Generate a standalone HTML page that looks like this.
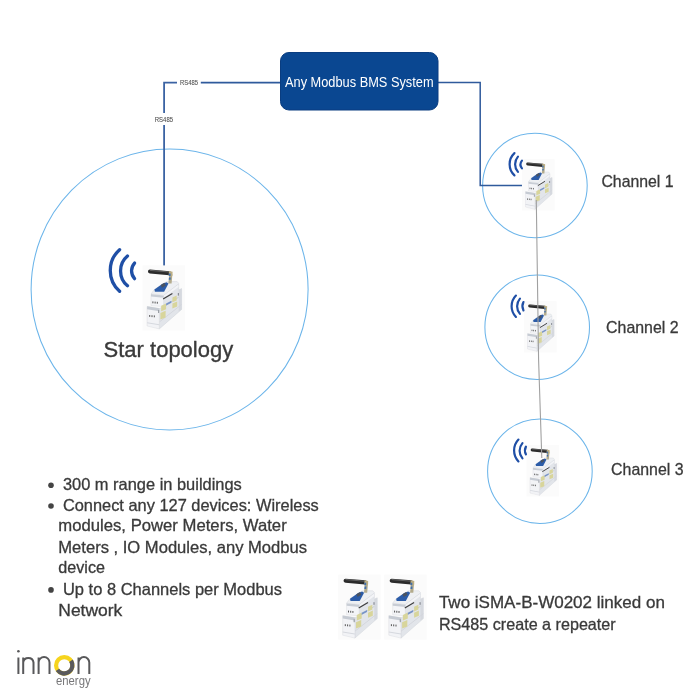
<!DOCTYPE html>
<html><head><meta charset="utf-8">
<style>
html,body{margin:0;padding:0;background:#ffffff;}
svg{display:block;will-change:transform;}
text{font-family:"Liberation Sans",sans-serif;}
</style></head>
<body>
<svg width="700" height="700" viewBox="0 0 700 700">
<rect width="700" height="700" fill="#ffffff"/>
<ellipse cx="169.6" cy="289.5" rx="138.5" ry="140.5" fill="none" stroke="#6cb5ea" stroke-width="1.05"/>
<circle cx="534.9" cy="185.5" r="52.3" fill="none" stroke="#6cb5ea" stroke-width="1.05"/>
<circle cx="537.2" cy="327.2" r="52.3" fill="none" stroke="#6cb5ea" stroke-width="1.05"/>
<circle cx="539.9" cy="471.2" r="52.3" fill="none" stroke="#6cb5ea" stroke-width="1.05"/>
<polyline points="280,82.6 200.8,82.6" fill="none" stroke="#2f5a9c" stroke-width="1.6"/>
<polyline points="177,82.6 164.1,82.6 164.1,113" fill="none" stroke="#3b63a3" stroke-width="1.8"/>
<polyline points="164.1,125 164.1,266.5" fill="none" stroke="#3b63a3" stroke-width="1.8"/>
<polyline points="438,82.6 480.2,82.6 480.2,185.5 522,185.5" fill="none" stroke="#2f5a9c" stroke-width="1.5"/>
<rect x="280.5" y="52.5" width="157.5" height="57.5" rx="8.5" fill="#0a4791" stroke="#0a3d80" stroke-width="1"/>
<text x="285" y="86.7" font-size="14.6" fill="#ffffff" textLength="148.6" lengthAdjust="spacingAndGlyphs">Any Modbus BMS System</text>
<text x="180" y="84.8" font-size="6.5" fill="#505050" stroke="#505050" stroke-width="0.08" textLength="18" lengthAdjust="spacingAndGlyphs">RS485</text>
<text x="154.8" y="121.8" font-size="6.5" fill="#505050" stroke="#505050" stroke-width="0.08" textLength="18.2" lengthAdjust="spacingAndGlyphs">RS485</text>
<g transform="translate(140.00 262.00) scale(1.0 1.0)">
<rect x="2.5" y="3.4" width="42.5" height="65" fill="#fbfbfb"/>
<!-- side face -->
<polygon points="23.6,32.9 37.7,22.2 38.7,22.2 38.7,28 41.6,26.6 41.6,47.4 19.3,66.9 19.3,46.5 23.6,44.5" fill="#e2e5ea" stroke="#d0d4da" stroke-width="0.5"/>
<polygon points="38.7,28 41.6,26.6 41.6,47.4 38.7,49.6" fill="#d6d9df"/>
<polygon points="23.6,33.2 38.2,22.6 38.6,25 23.6,36" fill="#f3f4f7"/>
<line x1="23.6" y1="44.8" x2="38.7" y2="35.2" stroke="#c4c8cf" stroke-width="0.9"/>
<line x1="19.3" y1="60" x2="41.6" y2="42.5" stroke="#d2d5db" stroke-width="0.9"/>
<!-- upper module left face -->
<polygon points="11,32.4 23.6,33.8 23.6,44.5 11,43.6" fill="#f4f5f8" stroke="#d3d6dc" stroke-width="0.4"/>
<polygon points="11,32 23.6,33.4 23.6,35.8 11,34.5" fill="#c8cdd5"/>
<!-- lower module left face -->
<polygon points="7.1,44.5 19.3,46.5 19.3,66.9 7.1,64" fill="#f2f3f6" stroke="#d3d6dc" stroke-width="0.4"/>
<polygon points="7.1,44.2 19.3,46.2 19.3,49.2 7.1,47.3" fill="#c6cbd3"/>
<polygon points="7.1,60.2 19.3,62.2 19.3,63.2 7.1,61.2" fill="#d5d8de"/>
<!-- top face -->
<polygon points="11,32 14.4,27.5 26.5,19.6 37.2,19.6 38.9,21.6 23.6,33.4" fill="#eef0f3" stroke="#d4d7dd" stroke-width="0.5"/>
<!-- blue top -->
<polygon points="14.4,27.5 22.6,21.7 26.5,20.2 28.5,21.5 24.1,29.8 14.9,29.8" fill="#2c5ca8"/>
<polygon points="20.7,23 24.5,20.8 25.8,23.5 22,25.8" fill="#4a5360"/>
<!-- yellow labels -->
<polygon points="21.2,43.8 26.1,41.4 26.1,47.2 21.2,49.2" fill="#d8d59b"/>
<polygon points="20.4,51 25.6,48.8 25.6,55.4 20.4,57.4" fill="#d8d59b"/>
<polygon points="32.4,35.6 36.7,33.5 36.7,38.4 32.4,40.2" fill="#d8d59b"/>
<polygon points="32.4,41.6 37.2,39.4 37.2,44.6 32.4,46.6" fill="#d8d59b"/>
<polygon points="26.1,41.6 31.4,38.8 31.4,40.8 26.1,43.6" fill="#7894c8"/>
<!-- dark text strip -->
<line x1="23.1" y1="36.9" x2="32.4" y2="31.4" stroke="#3e3e3e" stroke-width="1.2"/>
<!-- small details -->
<rect x="37.8" y="31" width="1.2" height="2.6" fill="#8a8e95"/>
<rect x="18" y="48" width="1.2" height="3" fill="#9a9ea5"/>
<!-- dots on front -->
<rect x="12.4" y="39.4" width="1" height="1.9" fill="#555"/><rect x="14.6" y="39.6" width="1" height="1.9" fill="#555"/><rect x="16.8" y="39.8" width="1" height="1.9" fill="#555"/>
<rect x="9.2" y="53" width="1" height="1.9" fill="#555"/><rect x="11.5" y="53.2" width="1" height="1.9" fill="#555"/><rect x="13.8" y="53.4" width="1" height="1.9" fill="#555"/>
<!-- connector -->
<polygon points="29.2,12 32.4,12 31.6,21.5 28.4,21.5" fill="#b3ab8c"/>
<polygon points="29,15.4 30.8,15.4 30.6,17.8 28.8,17.8" fill="#3f6fae"/>
<!-- antenna -->
<line x1="10" y1="9.5" x2="29.5" y2="11.2" stroke="#2b2b2b" stroke-width="4.1" stroke-linecap="round"/>
<line x1="10.3" y1="8.4" x2="28" y2="9.9" stroke="#707070" stroke-width="0.8" stroke-linecap="round"/>
<polygon points="28.8,9 32.6,9.8 32.4,14 28.8,14" fill="#bcae84"/>
<rect x="28.8" y="11.5" width="1.8" height="2.5" fill="#3f6fae"/>
</g>
<g transform="translate(520.04 156.50) scale(0.77 0.79)">
<rect x="2.5" y="3.4" width="42.5" height="65" fill="#fbfbfb"/>
<!-- side face -->
<polygon points="23.6,32.9 37.7,22.2 38.7,22.2 38.7,28 41.6,26.6 41.6,47.4 19.3,66.9 19.3,46.5 23.6,44.5" fill="#e2e5ea" stroke="#d0d4da" stroke-width="0.5"/>
<polygon points="38.7,28 41.6,26.6 41.6,47.4 38.7,49.6" fill="#d6d9df"/>
<polygon points="23.6,33.2 38.2,22.6 38.6,25 23.6,36" fill="#f3f4f7"/>
<line x1="23.6" y1="44.8" x2="38.7" y2="35.2" stroke="#c4c8cf" stroke-width="0.9"/>
<line x1="19.3" y1="60" x2="41.6" y2="42.5" stroke="#d2d5db" stroke-width="0.9"/>
<!-- upper module left face -->
<polygon points="11,32.4 23.6,33.8 23.6,44.5 11,43.6" fill="#f4f5f8" stroke="#d3d6dc" stroke-width="0.4"/>
<polygon points="11,32 23.6,33.4 23.6,35.8 11,34.5" fill="#c8cdd5"/>
<!-- lower module left face -->
<polygon points="7.1,44.5 19.3,46.5 19.3,66.9 7.1,64" fill="#f2f3f6" stroke="#d3d6dc" stroke-width="0.4"/>
<polygon points="7.1,44.2 19.3,46.2 19.3,49.2 7.1,47.3" fill="#c6cbd3"/>
<polygon points="7.1,60.2 19.3,62.2 19.3,63.2 7.1,61.2" fill="#d5d8de"/>
<!-- top face -->
<polygon points="11,32 14.4,27.5 26.5,19.6 37.2,19.6 38.9,21.6 23.6,33.4" fill="#eef0f3" stroke="#d4d7dd" stroke-width="0.5"/>
<!-- blue top -->
<polygon points="14.4,27.5 22.6,21.7 26.5,20.2 28.5,21.5 24.1,29.8 14.9,29.8" fill="#2c5ca8"/>
<polygon points="20.7,23 24.5,20.8 25.8,23.5 22,25.8" fill="#4a5360"/>
<!-- yellow labels -->
<polygon points="21.2,43.8 26.1,41.4 26.1,47.2 21.2,49.2" fill="#d8d59b"/>
<polygon points="20.4,51 25.6,48.8 25.6,55.4 20.4,57.4" fill="#d8d59b"/>
<polygon points="32.4,35.6 36.7,33.5 36.7,38.4 32.4,40.2" fill="#d8d59b"/>
<polygon points="32.4,41.6 37.2,39.4 37.2,44.6 32.4,46.6" fill="#d8d59b"/>
<polygon points="26.1,41.6 31.4,38.8 31.4,40.8 26.1,43.6" fill="#7894c8"/>
<!-- dark text strip -->
<line x1="23.1" y1="36.9" x2="32.4" y2="31.4" stroke="#3e3e3e" stroke-width="1.2"/>
<!-- small details -->
<rect x="37.8" y="31" width="1.2" height="2.6" fill="#8a8e95"/>
<rect x="18" y="48" width="1.2" height="3" fill="#9a9ea5"/>
<!-- dots on front -->
<rect x="12.4" y="39.4" width="1" height="1.9" fill="#555"/><rect x="14.6" y="39.6" width="1" height="1.9" fill="#555"/><rect x="16.8" y="39.8" width="1" height="1.9" fill="#555"/>
<rect x="9.2" y="53" width="1" height="1.9" fill="#555"/><rect x="11.5" y="53.2" width="1" height="1.9" fill="#555"/><rect x="13.8" y="53.4" width="1" height="1.9" fill="#555"/>
<!-- connector -->
<polygon points="29.2,12 32.4,12 31.6,21.5 28.4,21.5" fill="#b3ab8c"/>
<polygon points="29,15.4 30.8,15.4 30.6,17.8 28.8,17.8" fill="#3f6fae"/>
<!-- antenna -->
<line x1="10" y1="9.5" x2="29.5" y2="11.2" stroke="#2b2b2b" stroke-width="4.1" stroke-linecap="round"/>
<line x1="10.3" y1="8.4" x2="28" y2="9.9" stroke="#707070" stroke-width="0.8" stroke-linecap="round"/>
<polygon points="28.8,9 32.6,9.8 32.4,14 28.8,14" fill="#bcae84"/>
<rect x="28.8" y="11.5" width="1.8" height="2.5" fill="#3f6fae"/>
</g>
<g transform="translate(522.04 298.50) scale(0.77 0.79)">
<rect x="2.5" y="3.4" width="42.5" height="65" fill="#fbfbfb"/>
<!-- side face -->
<polygon points="23.6,32.9 37.7,22.2 38.7,22.2 38.7,28 41.6,26.6 41.6,47.4 19.3,66.9 19.3,46.5 23.6,44.5" fill="#e2e5ea" stroke="#d0d4da" stroke-width="0.5"/>
<polygon points="38.7,28 41.6,26.6 41.6,47.4 38.7,49.6" fill="#d6d9df"/>
<polygon points="23.6,33.2 38.2,22.6 38.6,25 23.6,36" fill="#f3f4f7"/>
<line x1="23.6" y1="44.8" x2="38.7" y2="35.2" stroke="#c4c8cf" stroke-width="0.9"/>
<line x1="19.3" y1="60" x2="41.6" y2="42.5" stroke="#d2d5db" stroke-width="0.9"/>
<!-- upper module left face -->
<polygon points="11,32.4 23.6,33.8 23.6,44.5 11,43.6" fill="#f4f5f8" stroke="#d3d6dc" stroke-width="0.4"/>
<polygon points="11,32 23.6,33.4 23.6,35.8 11,34.5" fill="#c8cdd5"/>
<!-- lower module left face -->
<polygon points="7.1,44.5 19.3,46.5 19.3,66.9 7.1,64" fill="#f2f3f6" stroke="#d3d6dc" stroke-width="0.4"/>
<polygon points="7.1,44.2 19.3,46.2 19.3,49.2 7.1,47.3" fill="#c6cbd3"/>
<polygon points="7.1,60.2 19.3,62.2 19.3,63.2 7.1,61.2" fill="#d5d8de"/>
<!-- top face -->
<polygon points="11,32 14.4,27.5 26.5,19.6 37.2,19.6 38.9,21.6 23.6,33.4" fill="#eef0f3" stroke="#d4d7dd" stroke-width="0.5"/>
<!-- blue top -->
<polygon points="14.4,27.5 22.6,21.7 26.5,20.2 28.5,21.5 24.1,29.8 14.9,29.8" fill="#2c5ca8"/>
<polygon points="20.7,23 24.5,20.8 25.8,23.5 22,25.8" fill="#4a5360"/>
<!-- yellow labels -->
<polygon points="21.2,43.8 26.1,41.4 26.1,47.2 21.2,49.2" fill="#d8d59b"/>
<polygon points="20.4,51 25.6,48.8 25.6,55.4 20.4,57.4" fill="#d8d59b"/>
<polygon points="32.4,35.6 36.7,33.5 36.7,38.4 32.4,40.2" fill="#d8d59b"/>
<polygon points="32.4,41.6 37.2,39.4 37.2,44.6 32.4,46.6" fill="#d8d59b"/>
<polygon points="26.1,41.6 31.4,38.8 31.4,40.8 26.1,43.6" fill="#7894c8"/>
<!-- dark text strip -->
<line x1="23.1" y1="36.9" x2="32.4" y2="31.4" stroke="#3e3e3e" stroke-width="1.2"/>
<!-- small details -->
<rect x="37.8" y="31" width="1.2" height="2.6" fill="#8a8e95"/>
<rect x="18" y="48" width="1.2" height="3" fill="#9a9ea5"/>
<!-- dots on front -->
<rect x="12.4" y="39.4" width="1" height="1.9" fill="#555"/><rect x="14.6" y="39.6" width="1" height="1.9" fill="#555"/><rect x="16.8" y="39.8" width="1" height="1.9" fill="#555"/>
<rect x="9.2" y="53" width="1" height="1.9" fill="#555"/><rect x="11.5" y="53.2" width="1" height="1.9" fill="#555"/><rect x="13.8" y="53.4" width="1" height="1.9" fill="#555"/>
<!-- connector -->
<polygon points="29.2,12 32.4,12 31.6,21.5 28.4,21.5" fill="#b3ab8c"/>
<polygon points="29,15.4 30.8,15.4 30.6,17.8 28.8,17.8" fill="#3f6fae"/>
<!-- antenna -->
<line x1="10" y1="9.5" x2="29.5" y2="11.2" stroke="#2b2b2b" stroke-width="4.1" stroke-linecap="round"/>
<line x1="10.3" y1="8.4" x2="28" y2="9.9" stroke="#707070" stroke-width="0.8" stroke-linecap="round"/>
<polygon points="28.8,9 32.6,9.8 32.4,14 28.8,14" fill="#bcae84"/>
<rect x="28.8" y="11.5" width="1.8" height="2.5" fill="#3f6fae"/>
</g>
<g transform="translate(524.54 442.50) scale(0.77 0.79)">
<rect x="2.5" y="3.4" width="42.5" height="65" fill="#fbfbfb"/>
<!-- side face -->
<polygon points="23.6,32.9 37.7,22.2 38.7,22.2 38.7,28 41.6,26.6 41.6,47.4 19.3,66.9 19.3,46.5 23.6,44.5" fill="#e2e5ea" stroke="#d0d4da" stroke-width="0.5"/>
<polygon points="38.7,28 41.6,26.6 41.6,47.4 38.7,49.6" fill="#d6d9df"/>
<polygon points="23.6,33.2 38.2,22.6 38.6,25 23.6,36" fill="#f3f4f7"/>
<line x1="23.6" y1="44.8" x2="38.7" y2="35.2" stroke="#c4c8cf" stroke-width="0.9"/>
<line x1="19.3" y1="60" x2="41.6" y2="42.5" stroke="#d2d5db" stroke-width="0.9"/>
<!-- upper module left face -->
<polygon points="11,32.4 23.6,33.8 23.6,44.5 11,43.6" fill="#f4f5f8" stroke="#d3d6dc" stroke-width="0.4"/>
<polygon points="11,32 23.6,33.4 23.6,35.8 11,34.5" fill="#c8cdd5"/>
<!-- lower module left face -->
<polygon points="7.1,44.5 19.3,46.5 19.3,66.9 7.1,64" fill="#f2f3f6" stroke="#d3d6dc" stroke-width="0.4"/>
<polygon points="7.1,44.2 19.3,46.2 19.3,49.2 7.1,47.3" fill="#c6cbd3"/>
<polygon points="7.1,60.2 19.3,62.2 19.3,63.2 7.1,61.2" fill="#d5d8de"/>
<!-- top face -->
<polygon points="11,32 14.4,27.5 26.5,19.6 37.2,19.6 38.9,21.6 23.6,33.4" fill="#eef0f3" stroke="#d4d7dd" stroke-width="0.5"/>
<!-- blue top -->
<polygon points="14.4,27.5 22.6,21.7 26.5,20.2 28.5,21.5 24.1,29.8 14.9,29.8" fill="#2c5ca8"/>
<polygon points="20.7,23 24.5,20.8 25.8,23.5 22,25.8" fill="#4a5360"/>
<!-- yellow labels -->
<polygon points="21.2,43.8 26.1,41.4 26.1,47.2 21.2,49.2" fill="#d8d59b"/>
<polygon points="20.4,51 25.6,48.8 25.6,55.4 20.4,57.4" fill="#d8d59b"/>
<polygon points="32.4,35.6 36.7,33.5 36.7,38.4 32.4,40.2" fill="#d8d59b"/>
<polygon points="32.4,41.6 37.2,39.4 37.2,44.6 32.4,46.6" fill="#d8d59b"/>
<polygon points="26.1,41.6 31.4,38.8 31.4,40.8 26.1,43.6" fill="#7894c8"/>
<!-- dark text strip -->
<line x1="23.1" y1="36.9" x2="32.4" y2="31.4" stroke="#3e3e3e" stroke-width="1.2"/>
<!-- small details -->
<rect x="37.8" y="31" width="1.2" height="2.6" fill="#8a8e95"/>
<rect x="18" y="48" width="1.2" height="3" fill="#9a9ea5"/>
<!-- dots on front -->
<rect x="12.4" y="39.4" width="1" height="1.9" fill="#555"/><rect x="14.6" y="39.6" width="1" height="1.9" fill="#555"/><rect x="16.8" y="39.8" width="1" height="1.9" fill="#555"/>
<rect x="9.2" y="53" width="1" height="1.9" fill="#555"/><rect x="11.5" y="53.2" width="1" height="1.9" fill="#555"/><rect x="13.8" y="53.4" width="1" height="1.9" fill="#555"/>
<!-- connector -->
<polygon points="29.2,12 32.4,12 31.6,21.5 28.4,21.5" fill="#b3ab8c"/>
<polygon points="29,15.4 30.8,15.4 30.6,17.8 28.8,17.8" fill="#3f6fae"/>
<!-- antenna -->
<line x1="10" y1="9.5" x2="29.5" y2="11.2" stroke="#2b2b2b" stroke-width="4.1" stroke-linecap="round"/>
<line x1="10.3" y1="8.4" x2="28" y2="9.9" stroke="#707070" stroke-width="0.8" stroke-linecap="round"/>
<polygon points="28.8,9 32.6,9.8 32.4,14 28.8,14" fill="#bcae84"/>
<rect x="28.8" y="11.5" width="1.8" height="2.5" fill="#3f6fae"/>
</g>
<g transform="translate(335.60 571.20) scale(1.0 1.0)">
<rect x="2.5" y="3.4" width="42.5" height="65" fill="#fbfbfb"/>
<!-- side face -->
<polygon points="23.6,32.9 37.7,22.2 38.7,22.2 38.7,28 41.6,26.6 41.6,47.4 19.3,66.9 19.3,46.5 23.6,44.5" fill="#e2e5ea" stroke="#d0d4da" stroke-width="0.5"/>
<polygon points="38.7,28 41.6,26.6 41.6,47.4 38.7,49.6" fill="#d6d9df"/>
<polygon points="23.6,33.2 38.2,22.6 38.6,25 23.6,36" fill="#f3f4f7"/>
<line x1="23.6" y1="44.8" x2="38.7" y2="35.2" stroke="#c4c8cf" stroke-width="0.9"/>
<line x1="19.3" y1="60" x2="41.6" y2="42.5" stroke="#d2d5db" stroke-width="0.9"/>
<!-- upper module left face -->
<polygon points="11,32.4 23.6,33.8 23.6,44.5 11,43.6" fill="#f4f5f8" stroke="#d3d6dc" stroke-width="0.4"/>
<polygon points="11,32 23.6,33.4 23.6,35.8 11,34.5" fill="#c8cdd5"/>
<!-- lower module left face -->
<polygon points="7.1,44.5 19.3,46.5 19.3,66.9 7.1,64" fill="#f2f3f6" stroke="#d3d6dc" stroke-width="0.4"/>
<polygon points="7.1,44.2 19.3,46.2 19.3,49.2 7.1,47.3" fill="#c6cbd3"/>
<polygon points="7.1,60.2 19.3,62.2 19.3,63.2 7.1,61.2" fill="#d5d8de"/>
<!-- top face -->
<polygon points="11,32 14.4,27.5 26.5,19.6 37.2,19.6 38.9,21.6 23.6,33.4" fill="#eef0f3" stroke="#d4d7dd" stroke-width="0.5"/>
<!-- blue top -->
<polygon points="14.4,27.5 22.6,21.7 26.5,20.2 28.5,21.5 24.1,29.8 14.9,29.8" fill="#2c5ca8"/>
<polygon points="20.7,23 24.5,20.8 25.8,23.5 22,25.8" fill="#4a5360"/>
<!-- yellow labels -->
<polygon points="21.2,43.8 26.1,41.4 26.1,47.2 21.2,49.2" fill="#d8d59b"/>
<polygon points="20.4,51 25.6,48.8 25.6,55.4 20.4,57.4" fill="#d8d59b"/>
<polygon points="32.4,35.6 36.7,33.5 36.7,38.4 32.4,40.2" fill="#d8d59b"/>
<polygon points="32.4,41.6 37.2,39.4 37.2,44.6 32.4,46.6" fill="#d8d59b"/>
<polygon points="26.1,41.6 31.4,38.8 31.4,40.8 26.1,43.6" fill="#7894c8"/>
<!-- dark text strip -->
<line x1="23.1" y1="36.9" x2="32.4" y2="31.4" stroke="#3e3e3e" stroke-width="1.2"/>
<!-- small details -->
<rect x="37.8" y="31" width="1.2" height="2.6" fill="#8a8e95"/>
<rect x="18" y="48" width="1.2" height="3" fill="#9a9ea5"/>
<!-- dots on front -->
<rect x="12.4" y="39.4" width="1" height="1.9" fill="#555"/><rect x="14.6" y="39.6" width="1" height="1.9" fill="#555"/><rect x="16.8" y="39.8" width="1" height="1.9" fill="#555"/>
<rect x="9.2" y="53" width="1" height="1.9" fill="#555"/><rect x="11.5" y="53.2" width="1" height="1.9" fill="#555"/><rect x="13.8" y="53.4" width="1" height="1.9" fill="#555"/>
<!-- connector -->
<polygon points="29.2,12 32.4,12 31.6,21.5 28.4,21.5" fill="#b3ab8c"/>
<polygon points="29,15.4 30.8,15.4 30.6,17.8 28.8,17.8" fill="#3f6fae"/>
<!-- antenna -->
<line x1="10" y1="9.5" x2="29.5" y2="11.2" stroke="#2b2b2b" stroke-width="4.1" stroke-linecap="round"/>
<line x1="10.3" y1="8.4" x2="28" y2="9.9" stroke="#707070" stroke-width="0.8" stroke-linecap="round"/>
<polygon points="28.8,9 32.6,9.8 32.4,14 28.8,14" fill="#bcae84"/>
<rect x="28.8" y="11.5" width="1.8" height="2.5" fill="#3f6fae"/>
</g>
<g transform="translate(381.70 571.20) scale(1.0 1.0)">
<rect x="2.5" y="3.4" width="42.5" height="65" fill="#fbfbfb"/>
<!-- side face -->
<polygon points="23.6,32.9 37.7,22.2 38.7,22.2 38.7,28 41.6,26.6 41.6,47.4 19.3,66.9 19.3,46.5 23.6,44.5" fill="#e2e5ea" stroke="#d0d4da" stroke-width="0.5"/>
<polygon points="38.7,28 41.6,26.6 41.6,47.4 38.7,49.6" fill="#d6d9df"/>
<polygon points="23.6,33.2 38.2,22.6 38.6,25 23.6,36" fill="#f3f4f7"/>
<line x1="23.6" y1="44.8" x2="38.7" y2="35.2" stroke="#c4c8cf" stroke-width="0.9"/>
<line x1="19.3" y1="60" x2="41.6" y2="42.5" stroke="#d2d5db" stroke-width="0.9"/>
<!-- upper module left face -->
<polygon points="11,32.4 23.6,33.8 23.6,44.5 11,43.6" fill="#f4f5f8" stroke="#d3d6dc" stroke-width="0.4"/>
<polygon points="11,32 23.6,33.4 23.6,35.8 11,34.5" fill="#c8cdd5"/>
<!-- lower module left face -->
<polygon points="7.1,44.5 19.3,46.5 19.3,66.9 7.1,64" fill="#f2f3f6" stroke="#d3d6dc" stroke-width="0.4"/>
<polygon points="7.1,44.2 19.3,46.2 19.3,49.2 7.1,47.3" fill="#c6cbd3"/>
<polygon points="7.1,60.2 19.3,62.2 19.3,63.2 7.1,61.2" fill="#d5d8de"/>
<!-- top face -->
<polygon points="11,32 14.4,27.5 26.5,19.6 37.2,19.6 38.9,21.6 23.6,33.4" fill="#eef0f3" stroke="#d4d7dd" stroke-width="0.5"/>
<!-- blue top -->
<polygon points="14.4,27.5 22.6,21.7 26.5,20.2 28.5,21.5 24.1,29.8 14.9,29.8" fill="#2c5ca8"/>
<polygon points="20.7,23 24.5,20.8 25.8,23.5 22,25.8" fill="#4a5360"/>
<!-- yellow labels -->
<polygon points="21.2,43.8 26.1,41.4 26.1,47.2 21.2,49.2" fill="#d8d59b"/>
<polygon points="20.4,51 25.6,48.8 25.6,55.4 20.4,57.4" fill="#d8d59b"/>
<polygon points="32.4,35.6 36.7,33.5 36.7,38.4 32.4,40.2" fill="#d8d59b"/>
<polygon points="32.4,41.6 37.2,39.4 37.2,44.6 32.4,46.6" fill="#d8d59b"/>
<polygon points="26.1,41.6 31.4,38.8 31.4,40.8 26.1,43.6" fill="#7894c8"/>
<!-- dark text strip -->
<line x1="23.1" y1="36.9" x2="32.4" y2="31.4" stroke="#3e3e3e" stroke-width="1.2"/>
<!-- small details -->
<rect x="37.8" y="31" width="1.2" height="2.6" fill="#8a8e95"/>
<rect x="18" y="48" width="1.2" height="3" fill="#9a9ea5"/>
<!-- dots on front -->
<rect x="12.4" y="39.4" width="1" height="1.9" fill="#555"/><rect x="14.6" y="39.6" width="1" height="1.9" fill="#555"/><rect x="16.8" y="39.8" width="1" height="1.9" fill="#555"/>
<rect x="9.2" y="53" width="1" height="1.9" fill="#555"/><rect x="11.5" y="53.2" width="1" height="1.9" fill="#555"/><rect x="13.8" y="53.4" width="1" height="1.9" fill="#555"/>
<!-- connector -->
<polygon points="29.2,12 32.4,12 31.6,21.5 28.4,21.5" fill="#b3ab8c"/>
<polygon points="29,15.4 30.8,15.4 30.6,17.8 28.8,17.8" fill="#3f6fae"/>
<!-- antenna -->
<line x1="10" y1="9.5" x2="29.5" y2="11.2" stroke="#2b2b2b" stroke-width="4.1" stroke-linecap="round"/>
<line x1="10.3" y1="8.4" x2="28" y2="9.9" stroke="#707070" stroke-width="0.8" stroke-linecap="round"/>
<polygon points="28.8,9 32.6,9.8 32.4,14 28.8,14" fill="#bcae84"/>
<rect x="28.8" y="11.5" width="1.8" height="2.5" fill="#3f6fae"/>
</g>
<polyline points="536.3,200 538.6,360 541.8,458" fill="none" stroke="#a0a0a0" stroke-width="1.1"/>
<path d="M119.58 249.65 A27.97 27.97 0 0 0 119.58 291.35" stroke="#1f4fa6" stroke-width="3.3" fill="none" stroke-linecap="round"/>
<path d="M127.48 256.05 A19.38 19.38 0 0 0 127.48 285.75" stroke="#1f4fa6" stroke-width="3.3" fill="none" stroke-linecap="round"/>
<path d="M134.58 263.05 A11.57 11.57 0 0 0 134.58 278.65" stroke="#1f4fa6" stroke-width="3.3" fill="none" stroke-linecap="round"/>
<path d="M514.45 153.10 A15.24 15.24 0 0 0 514.45 175.40" stroke="#1f4fa6" stroke-width="2.2" fill="none" stroke-linecap="round"/>
<path d="M517.95 156.60 A11.69 11.69 0 0 0 517.95 171.90" stroke="#1f4fa6" stroke-width="2.2" fill="none" stroke-linecap="round"/>
<path d="M521.95 160.60 A6.31 6.31 0 0 0 521.95 168.40" stroke="#1f4fa6" stroke-width="2.2" fill="none" stroke-linecap="round"/>
<path d="M515.95 295.60 A15.21 15.21 0 0 0 515.95 316.90" stroke="#1f4fa6" stroke-width="2.2" fill="none" stroke-linecap="round"/>
<path d="M519.95 298.60 A11.69 11.69 0 0 0 519.95 313.90" stroke="#1f4fa6" stroke-width="2.2" fill="none" stroke-linecap="round"/>
<path d="M523.45 302.10 A9.11 9.11 0 0 0 523.45 310.40" stroke="#1f4fa6" stroke-width="2.2" fill="none" stroke-linecap="round"/>
<path d="M518.45 439.60 A15.83 15.83 0 0 0 518.45 461.40" stroke="#1f4fa6" stroke-width="2.2" fill="none" stroke-linecap="round"/>
<path d="M522.45 443.10 A11.69 11.69 0 0 0 522.45 458.40" stroke="#1f4fa6" stroke-width="2.2" fill="none" stroke-linecap="round"/>
<path d="M525.95 446.60 A8.10 8.10 0 0 0 525.95 454.40" stroke="#1f4fa6" stroke-width="2.2" fill="none" stroke-linecap="round"/>
<text x="601.4" y="186.9" font-size="17" fill="#3a3a3a" stroke="#3a3a3a" stroke-width="0.3" textLength="72.2" lengthAdjust="spacingAndGlyphs">Channel 1</text>
<text x="606.1" y="333.3" font-size="17" fill="#3a3a3a" stroke="#3a3a3a" stroke-width="0.3" textLength="72.5" lengthAdjust="spacingAndGlyphs">Channel 2</text>
<text x="611.1" y="475" font-size="17" fill="#3a3a3a" stroke="#3a3a3a" stroke-width="0.3" textLength="72.5" lengthAdjust="spacingAndGlyphs">Channel 3</text>
<text x="103.6" y="357.4" font-size="22.6" fill="#3a3a3a" stroke="#3a3a3a" stroke-width="0.35" textLength="129.6" lengthAdjust="spacingAndGlyphs">Star topology</text>
<circle cx="51" cy="485.3" r="2.8" fill="#444"/>
<circle cx="51" cy="506.0" r="2.8" fill="#444"/>
<circle cx="51" cy="589.9" r="2.8" fill="#444"/>
<text x="62.9" y="490.1" font-size="16.5" fill="#3a3a3a" stroke="#3a3a3a" stroke-width="0.3" textLength="178.9" lengthAdjust="spacingAndGlyphs">300 m range in buildings</text>
<text x="62.9" y="510.7" font-size="16.5" fill="#3a3a3a" stroke="#3a3a3a" stroke-width="0.3" textLength="255.9" lengthAdjust="spacingAndGlyphs">Connect any 127 devices: Wireless</text>
<text x="58.3" y="531.3" font-size="16.5" fill="#3a3a3a" stroke="#3a3a3a" stroke-width="0.3" textLength="228.4" lengthAdjust="spacingAndGlyphs">modules, Power Meters, Water</text>
<text x="58.3" y="552.9" font-size="16.5" fill="#3a3a3a" stroke="#3a3a3a" stroke-width="0.3" textLength="248.7" lengthAdjust="spacingAndGlyphs">Meters , IO Modules, any Modbus</text>
<text x="58.3" y="573.4" font-size="16.5" fill="#3a3a3a" stroke="#3a3a3a" stroke-width="0.3" textLength="46.7" lengthAdjust="spacingAndGlyphs">device</text>
<text x="62.9" y="594.7" font-size="16.5" fill="#3a3a3a" stroke="#3a3a3a" stroke-width="0.3" textLength="219.1" lengthAdjust="spacingAndGlyphs">Up to 8 Channels per Modbus</text>
<text x="58.3" y="615.7" font-size="16.5" fill="#3a3a3a" stroke="#3a3a3a" stroke-width="0.3" textLength="64" lengthAdjust="spacingAndGlyphs">Network</text>
<text x="438.9" y="608.2" font-size="16.5" fill="#3a3a3a" stroke="#3a3a3a" stroke-width="0.3" textLength="226" lengthAdjust="spacingAndGlyphs">Two iSMA-B-W0202 linked on</text>
<text x="438.9" y="629.6" font-size="16.5" fill="#3a3a3a" stroke="#3a3a3a" stroke-width="0.3" textLength="176.8" lengthAdjust="spacingAndGlyphs">RS485 create a repeater</text>

<g stroke="#58585a" stroke-width="2.0" fill="none" stroke-linecap="butt">
<line x1="18.4" y1="657.5" x2="18.4" y2="674"/>
<path d="M23.2 674 V657.5 M23.2 662.5 A5.2 5.2 0 0 1 33.5 662.5 V674"/>
<path d="M38.6 674 V657.5 M38.6 662.5 A5.2 5.2 0 0 1 49.5 662.5 V674"/>
<path d="M78.5 674 V657.5 M78.5 662.5 A5.2 5.2 0 0 1 89.3 662.5 V674"/>
</g>
<circle cx="18.4" cy="651.3" r="1.3" fill="#58585a"/>
<circle cx="64.3" cy="665.4" r="8.2" fill="none" stroke="#f6d41e" stroke-width="4.2"/>
<path d="M71.02 660.70 A8.2 8.2 0 1 1 57.42 669.87" fill="none" stroke="#5a5a5c" stroke-width="4.3"/>

<text x="56" y="684.5" font-size="12.5" fill="#777779" textLength="34.6" lengthAdjust="spacingAndGlyphs">energy</text>
</svg>
</body></html>
